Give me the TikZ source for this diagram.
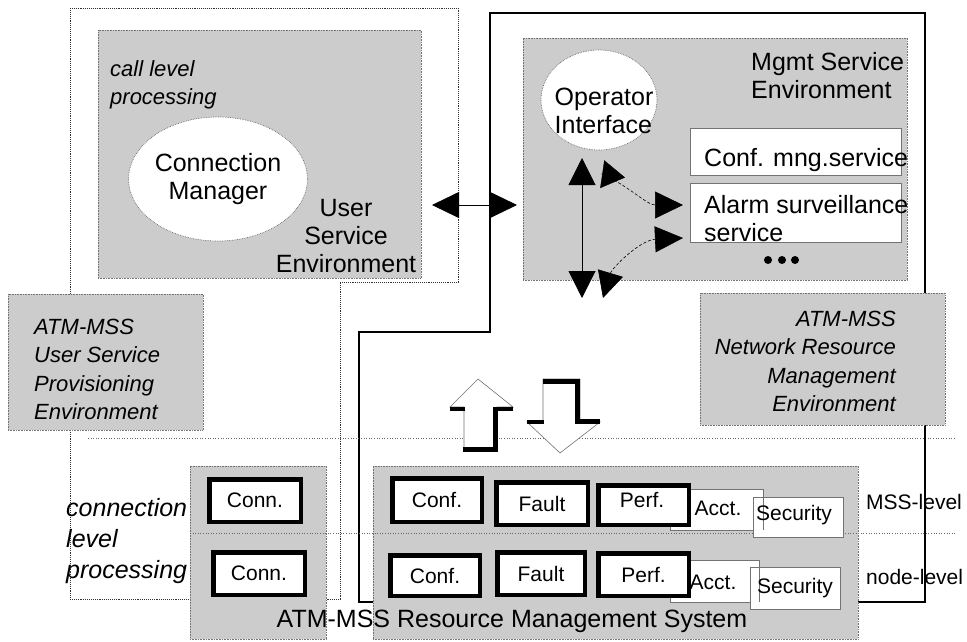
\documentclass[tikz,border=0pt]{standalone}
\usepackage{fontspec}
\setmainfont{Liberation Sans}
\usetikzlibrary{arrows.meta,shapes.geometric}
\begin{document}
\begin{tikzpicture}[x=1pt,y=-1pt,
  graybox/.style={rectangle,fill=black!20,draw=black!55,densely dotted,line width=0.6pt,inner sep=0pt},
  dotline/.style={densely dotted,line width=0.9pt,draw=black!80},
  hdot/.style={dotted,line width=0.6pt,draw=black!60},
  ell/.style={ellipse,fill=white,draw=black!60,densely dotted,line width=0.7pt,inner sep=0pt},
  thickbox/.style={rectangle,draw=black,line width=4.5pt,fill=white,inner sep=0pt,font=\fontsize{21}{24}\selectfont},
  thinbox/.style={rectangle,draw=black!55,line width=0.6pt,fill=white,inner sep=0pt},
  thinline/.style={draw=black!55,line width=0.6pt},
  txt/.style={inner sep=0pt},
  f25/.style={font=\fontsize{25}{28}\selectfont},
  f21/.style={font=\fontsize{21}{24}\selectfont},
  i22/.style={font=\fontsize{22}{28.3}\selectfont\itshape},
  i25/.style={font=\fontsize{25}{31}\selectfont\itshape},
  shadow/.style={line width=4.5pt,line cap=butt,line join=miter}
]
\useasboundingbox (0,0) rectangle (967,641);
\fill[white] (0,0) rectangle (967,641);

% outer environments
\draw[dotline] (70,8) -- (458,8) -- (458,282) -- (340,282) -- (340,599) -- (70,599) -- cycle;
\draw[line width=1.8pt] (490,13) -- (925,13) -- (925,602) -- (359,602) -- (359,332) -- (490,332) -- cycle;
\draw[hdot] (88,438) -- (955,438);

% gray boxes
\node[graybox,minimum width=323pt,minimum height=248pt] (use) at (259.5,154) {};
\node[graybox,minimum width=384pt,minimum height=242pt] (mgmt) at (715,159) {};
\node[graybox,minimum width=195pt,minimum height=136pt] (usp) at (105.5,362) {};
\node[graybox,minimum width=245pt,minimum height=132pt] (nrm) at (822.5,359) {};
\node[graybox,minimum width=136pt,minimum height=173pt] (connbox) at (258,552.5) {};
\node[graybox,minimum width=485pt,minimum height=173pt] (rms) at (615.5,552.5) {};
\draw[hdot] (190,533) -- (955,533);

% user service environment
\node[txt,i22,anchor=west,align=left] (clp) at (110,84.5) {call level\\processing};
\node[ell,f25,minimum width=176pt,minimum height=124pt,align=center] (cm) at (218,179) {Connection\\Manager};
\node[txt,f25,align=center] (uselbl) at (346,236) {User\\Service\\Environment};

% mgmt service environment
\node[ell,minimum width=116pt,minimum height=100pt] (op) at (599,100) {};
\node[txt,f25,align=left] (oplbl) at (604,111) {Operator\\Interface};
\node[txt,f25,anchor=west,align=left] (mgmtlbl) at (751,76) {Mgmt Service\\Environment};
\node[thinbox,minimum width=211pt,minimum height=47pt] (confs) at (795.5,151.5) {};
\node[txt,f25,anchor=west] (confslbl) at (704,160) {Conf. mng.service};
\node[thinbox,minimum width=211pt,minimum height=59pt] (alarm) at (795.5,212.5) {};
\node[txt,f25,anchor=west,align=left] (alarmlbl) at (704,219) {Alarm surveillance\\service};
\fill (768,260) circle (4) (782,260) circle (4) (795,260) circle (4);

% arrows in mgmt area
\coordinate (ha) at (432,205);
\coordinate (hb) at (517,205);
\draw[line width=0.8pt,{Triangle[length=27pt,width=26pt]}-{Triangle[length=27pt,width=26pt]}] (ha) -- (hb);
\coordinate (va) at (582,158);
\coordinate (vb) at (582,298);
\draw[line width=1pt,{Triangle[length=27pt,width=27pt]}-{Triangle[length=27pt,width=27pt]}] (va) -- (vb);
\coordinate (c1a) at (601,174);
\coordinate (c1t) at (625,177.5);
\coordinate (c1s) at (614,180);
\coordinate (c1e) at (683,205);
\draw[-{Triangle[length=23pt,width=28pt]}] (c1a) -- (c1t);
\draw[densely dashed,line width=0.6pt,-{Triangle[length=28pt,width=27pt]}] (c1s) .. controls (635,192) and (648,205) .. (c1e);
\coordinate (c2s) at (603,298);
\coordinate (c2e) at (683,238);
\draw[densely dashed,line width=0.6pt,{Triangle[length=26pt,width=26pt]}-{Triangle[length=28pt,width=26pt]}] (c2s) .. controls (612,268) and (640,240) .. (c2e);

% environment labels
\node[txt,i22,anchor=east,align=right] (nrmlbl) at (896,361.5) {ATM-MSS\\Network Resource\\Management\\Environment};
\node[txt,i22,anchor=west,align=left] (usplbl) at (34,369.5) {ATM-MSS\\User Service\\Provisioning\\Environment};

% hollow block arrows
\filldraw[fill=white,thinline] (478,379) -- (513,407) -- (497,407) -- (497,450) -- (464,450) -- (464,407) -- (450,407) -- cycle;
\draw[shadow] (513,409) -- (495.5,409) -- (495.5,449.5) -- (463,449.5);
\draw[shadow] (450,409) -- (465,409);
\filldraw[fill=white,thinline] (543,379) -- (580,379) -- (580,422) -- (600,422) -- (560,453) -- (527,422) -- (543,422) -- cycle;
\draw[shadow] (543,381.5) -- (577.5,381.5) -- (577.5,421.5) -- (600,421.5);
\draw[shadow] (527,422) -- (544,422);

% resource management system boxes
\node[thickbox,minimum width=91.5pt,minimum height=42.5pt] (connA) at (255,500.5) {Conn.};
\node[thickbox,minimum width=91.5pt,minimum height=42.5pt] (connB) at (259,573.5) {Conn.};
\node[thickbox,minimum width=89.5pt,minimum height=43.5pt] (confA) at (437,500) {Conf.};
\node[thickbox,minimum width=89.5pt,minimum height=40.5pt] (confB) at (435,575.5) {Conf.};
\node[thickbox,minimum width=91.5pt,minimum height=42.5pt] (faultA) at (542,503.5) {Fault};
\node[thickbox,minimum width=87.5pt,minimum height=42.5pt] (faultB) at (541,573.5) {Fault};
\node[thinbox,minimum width=93pt,minimum height=41pt] (acctA) at (716.5,509.5) {};
\node[thinbox,minimum width=89pt,minimum height=42pt] (acctB) at (714.5,581) {};
\node[thinbox,minimum width=90pt,minimum height=40pt] (secA) at (798,517) {};
\node[thinbox,minimum width=90pt,minimum height=42pt] (secB) at (795,588) {};
\draw[thinline] (acctA.north east) -- (acctA.south east);
\draw[thinline] (acctB.north east) -- (acctB.south east);
\node[thickbox,minimum width=90.5pt,minimum height=39.5pt] (perfA) at (643.5,505) {};
\node[txt,f21] (perfAlbl) at (642,500) {Perf.};
\node[thickbox,minimum width=90.5pt,minimum height=42.5pt] (perfB) at (643.5,574.5) {Perf.};
\node[txt,f21] (acctAlbl) at (718,508) {Acct.};
\node[txt,f21] (acctBlbl) at (713,582) {Acct.};
\node[txt,f21] (secAlbl) at (794,515) {Security};
\node[txt,f21] (secBlbl) at (795,588) {Security};

\node[txt,f25] (rmslbl) at (512,621) {ATM-MSS Resource Management System};
\node[txt,i25,anchor=west,align=left] (clvl) at (66,541) {connection\\level\\processing};
\node[txt,f21,anchor=west] (msslvl) at (866,502) {MSS-level};
\node[txt,f21,anchor=west] (nodelvl) at (866,577) {node-level};
\draw[line width=1.8pt] (925,427) -- (925,603);
\end{tikzpicture}
\end{document}
